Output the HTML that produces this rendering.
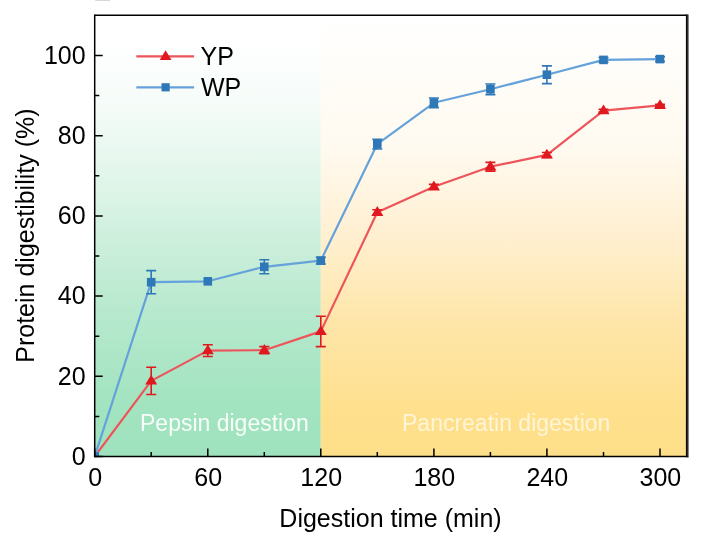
<!DOCTYPE html>
<html><head><meta charset="utf-8"><title>Protein digestibility</title>
<style>
html,body{margin:0;padding:0;background:#fff;}
body{width:721px;height:535px;overflow:hidden;}
svg{display:block;will-change:transform;}
text{font-family:"Liberation Sans",sans-serif;font-size:25px;fill:#000;}
</style></head>
<body>
<svg width="721" height="535" viewBox="0 0 721 535">
<defs>
<linearGradient id="gg" x1="0" y1="0" x2="0" y2="1">
<stop offset="0" stop-color="#fefffe"/>
<stop offset="0.14" stop-color="#f6fcf9"/>
<stop offset="0.32" stop-color="#e2f6eb"/>
<stop offset="0.5" stop-color="#caeeda"/>
<stop offset="0.65" stop-color="#b7e9ce"/>
<stop offset="0.85" stop-color="#a4e4c1"/>
<stop offset="1" stop-color="#9ee2bd"/>
</linearGradient>
<linearGradient id="yg" x1="0" y1="0" x2="0" y2="1">
<stop offset="0" stop-color="#ffffff"/>
<stop offset="0.3" stop-color="#fffaf0"/>
<stop offset="0.487" stop-color="#fff0d3"/>
<stop offset="0.69" stop-color="#fee6aa"/>
<stop offset="0.895" stop-color="#fee08d"/>
<stop offset="1" stop-color="#fedf89"/>
</linearGradient>
<clipPath id="cp"><rect x="94.7" y="15.2" width="592.5999999999999" height="441.3"/></clipPath>
</defs>
<rect width="721" height="535" fill="#fff"/>
<rect x="95.2" y="0" width="15" height="0.7" fill="#c8c8c8"/>
<rect x="94.7" y="42.5" width="226.1" height="414.0" fill="url(#gg)"/>
<rect x="320.8" y="15.2" width="366.5" height="441.3" fill="url(#yg)"/>
<text x="140" y="430.5" style="font-size:23px;fill:#ffffff;fill-opacity:0.92">Pepsin digestion</text>
<text x="402" y="430.5" style="font-size:23px;fill:#ffffff;fill-opacity:0.66">Pancreatin digestion</text>
<g clip-path="url(#cp)">
<polyline points="94.7,456.5 151.2,380.9 207.8,350.6 264.3,350.2 320.8,331.4 377.3,212.3 433.9,186.8 490.4,166.7 546.9,154.9 603.5,110.6 660.0,105.4" fill="none" stroke="#ed555b" stroke-width="2.2" stroke-linejoin="round"/>
<path d="M151.2 367.3V394.5M146.2 367.3h10M146.2 394.5h10" stroke="#e0191f" stroke-width="1.6" fill="none"/>
<path d="M207.8 344.8V356.5M202.8 344.8h10M202.8 356.5h10" stroke="#e0191f" stroke-width="1.6" fill="none"/>
<path d="M264.3 346.6V353.8M259.3 346.6h10M259.3 353.8h10" stroke="#e0191f" stroke-width="1.6" fill="none"/>
<path d="M320.8 316.2V346.6M315.8 316.2h10M315.8 346.6h10" stroke="#e0191f" stroke-width="1.6" fill="none"/>
<path d="M377.3 209.7V214.9M372.3 209.7h10M372.3 214.9h10" stroke="#e0191f" stroke-width="1.6" fill="none"/>
<path d="M433.9 184.4V189.2M428.9 184.4h10M428.9 189.2h10" stroke="#e0191f" stroke-width="1.6" fill="none"/>
<path d="M490.4 162.4V171.1M485.4 162.4h10M485.4 171.1h10" stroke="#e0191f" stroke-width="1.6" fill="none"/>
<path d="M546.9 152.5V157.4M541.9 152.5h10M541.9 157.4h10" stroke="#e0191f" stroke-width="1.6" fill="none"/>
<path d="M603.5 109.2V112.0M598.5 109.2h10M598.5 112.0h10" stroke="#e0191f" stroke-width="1.6" fill="none"/>
<path d="M660.0 104.4V106.4M655.0 104.4h10M655.0 106.4h10" stroke="#e0191f" stroke-width="1.6" fill="none"/>
<path d="M94.7 450.3L100.7 460.2H88.7Z" fill="#e0191f"/>
<path d="M151.2 374.7L157.2 384.6H145.2Z" fill="#e0191f"/>
<path d="M207.8 344.4L213.8 354.3H201.8Z" fill="#e0191f"/>
<path d="M264.3 344.0L270.3 353.9H258.3Z" fill="#e0191f"/>
<path d="M320.8 325.2L326.8 335.1H314.8Z" fill="#e0191f"/>
<path d="M377.3 206.1L383.3 216.0H371.3Z" fill="#e0191f"/>
<path d="M433.9 180.6L439.9 190.5H427.9Z" fill="#e0191f"/>
<path d="M490.4 160.5L496.4 170.4H484.4Z" fill="#e0191f"/>
<path d="M546.9 148.7L552.9 158.6H540.9Z" fill="#e0191f"/>
<path d="M603.5 104.4L609.5 114.3H597.5Z" fill="#e0191f"/>
<path d="M660.0 99.2L666.0 109.1H654.0Z" fill="#e0191f"/>
<polyline points="94.7,456.5 151.2,282.2 207.8,281.3 264.3,266.8 320.8,260.6 377.3,144.1 433.9,102.8 490.4,89.3 546.9,74.7 603.5,59.9 660.0,59.1" fill="none" stroke="#65a2db" stroke-width="2.2" stroke-linejoin="round"/>
<path d="M151.2 270.6V293.8M146.2 270.6h10M146.2 293.8h10" stroke="#2f78b8" stroke-width="1.6" fill="none"/>
<path d="M264.3 259.8V273.8M259.3 259.8h10M259.3 273.8h10" stroke="#2f78b8" stroke-width="1.6" fill="none"/>
<path d="M320.8 257.2V264.0M315.8 257.2h10M315.8 264.0h10" stroke="#2f78b8" stroke-width="1.6" fill="none"/>
<path d="M377.3 139.2V149.0M372.3 139.2h10M372.3 149.0h10" stroke="#2f78b8" stroke-width="1.6" fill="none"/>
<path d="M433.9 98.0V107.6M428.9 98.0h10M428.9 107.6h10" stroke="#2f78b8" stroke-width="1.6" fill="none"/>
<path d="M490.4 84.0V94.6M485.4 84.0h10M485.4 94.6h10" stroke="#2f78b8" stroke-width="1.6" fill="none"/>
<path d="M546.9 65.9V83.6M541.9 65.9h10M541.9 83.6h10" stroke="#2f78b8" stroke-width="1.6" fill="none"/>
<path d="M603.5 57.5V62.3M598.5 57.5h10M598.5 62.3h10" stroke="#2f78b8" stroke-width="1.6" fill="none"/>
<path d="M660.0 56.7V61.5M655.0 56.7h10M655.0 61.5h10" stroke="#2f78b8" stroke-width="1.6" fill="none"/>
<rect x="90.4" y="452.2" width="8.6" height="8.6" fill="#2f78b8"/>
<rect x="146.9" y="277.9" width="8.6" height="8.6" fill="#2f78b8"/>
<rect x="203.5" y="277.0" width="8.6" height="8.6" fill="#2f78b8"/>
<rect x="260.0" y="262.5" width="8.6" height="8.6" fill="#2f78b8"/>
<rect x="316.5" y="256.3" width="8.6" height="8.6" fill="#2f78b8"/>
<rect x="373.0" y="139.8" width="8.6" height="8.6" fill="#2f78b8"/>
<rect x="429.6" y="98.5" width="8.6" height="8.6" fill="#2f78b8"/>
<rect x="486.1" y="85.0" width="8.6" height="8.6" fill="#2f78b8"/>
<rect x="542.6" y="70.4" width="8.6" height="8.6" fill="#2f78b8"/>
<rect x="599.2" y="55.6" width="8.6" height="8.6" fill="#2f78b8"/>
<rect x="655.7" y="54.8" width="8.6" height="8.6" fill="#2f78b8"/>
</g>
<!-- legend -->
<path d="M136.3 56.4H194.1" stroke="#ed555b" stroke-width="2.2"/>
<path d="M165.6 50.3L171.5 59.9H159.7Z" fill="#e0191f"/>
<path d="M136.3 87.3H194.1" stroke="#65a2db" stroke-width="2.2"/>
<rect x="161.5" y="83.2" width="8.2" height="8.2" fill="#2f78b8"/>
<text x="200.5" y="65.2">YP</text>
<text x="201" y="95.5">WP</text>
<!-- axes -->
<path d="M94.7 456.5h8M94.7 416.4h4.6M94.7 376.3h8M94.7 336.2h4.6M94.7 296.1h8M94.7 256.0h4.6M94.7 215.9h8M94.7 175.8h4.6M94.7 135.7h8M94.7 95.6h4.6M94.7 55.5h8M94.7 456.5v-8M151.2 456.5v-4.6M207.8 456.5v-8M264.3 456.5v-4.6M320.8 456.5v-8M377.3 456.5v-4.6M433.9 456.5v-8M490.4 456.5v-4.6M546.9 456.5v-8M603.5 456.5v-4.6M660.0 456.5v-8" stroke="#000" stroke-width="1.5" fill="none"/>
<path d="M94.7 15.2H687.3" stroke="#000" stroke-width="1.5" fill="none"/>
<path d="M94.7 14.45V457.25" stroke="#000" stroke-width="1.5" fill="none"/>
<path d="M93.95 456.5H688.6999999999999" stroke="#000" stroke-width="1.6" fill="none"/>
<path d="M686.9 14.45V457.3" stroke="#0a0a0a" stroke-width="2"/>
<path d="M688.4 14.45V457.3" stroke="#7a7a7a" stroke-width="1"/>
<text x="85.6" y="464.8" text-anchor="end">0</text><text x="85.6" y="384.6" text-anchor="end">20</text><text x="85.6" y="304.4" text-anchor="end">40</text><text x="85.6" y="224.2" text-anchor="end">60</text><text x="85.6" y="144.0" text-anchor="end">80</text><text x="85.6" y="63.8" text-anchor="end">100</text>
<text x="95.1" y="485.6" text-anchor="middle">0</text><text x="208.2" y="485.6" text-anchor="middle">60</text><text x="321.2" y="485.6" text-anchor="middle">120</text><text x="434.3" y="485.6" text-anchor="middle">180</text><text x="547.3" y="485.6" text-anchor="middle">240</text><text x="660.4" y="485.6" text-anchor="middle">300</text>
<text x="390.5" y="526.6" text-anchor="middle">Digestion time (min)</text>
<text transform="translate(33.6 235.6) rotate(-90)" text-anchor="middle">Protein digestibility (%)</text>
</svg>
</body></html>
